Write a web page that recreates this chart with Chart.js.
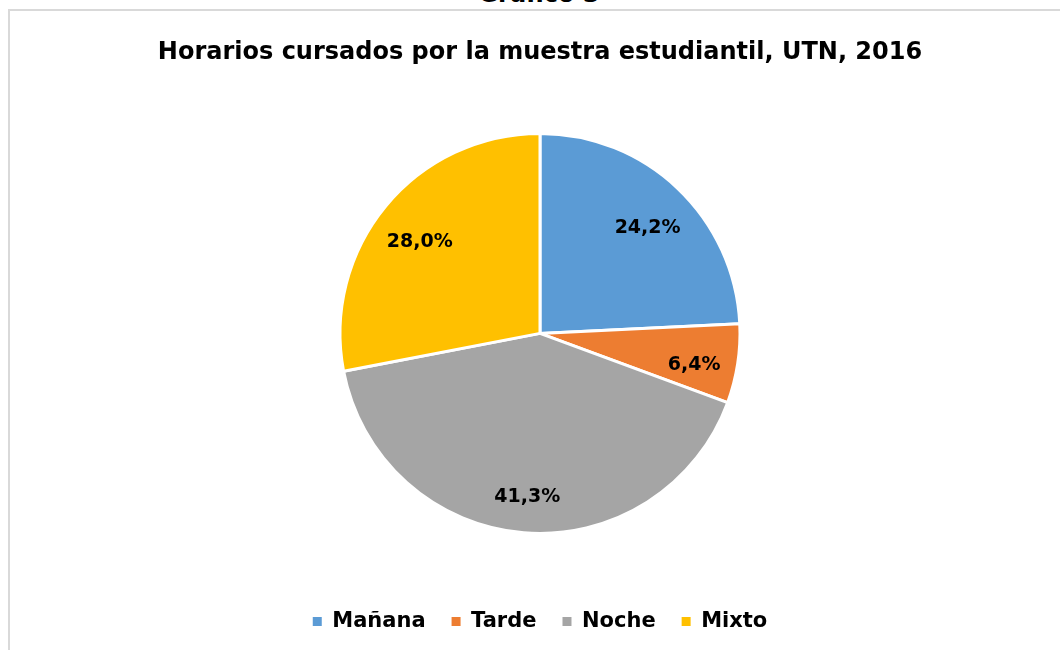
<!DOCTYPE html>
<html>
<head>
<meta charset="utf-8">
<script src="https://cdn.jsdelivr.net/npm/chart.js@4.4.1/dist/chart.umd.min.js"></script>
<style>
  html, body { margin: 0; padding: 0; background: #fff; overflow: hidden; }
  #frame { position: absolute; left: 8px; top: 9px; width: 1100px; height: 700px;
           border-top: 2px solid #d9d9d9; border-left: 2px solid #d9d9d9; }
  #above { position: absolute; left: 0; width: 1078px; top: -19px; text-align: center;
           font: bold 24px "DejaVu Sans", sans-serif; line-height: 26px; color: #000; }
  #wrap { position: absolute; left: 0; top: 0; width: 1060px; height: 650px; }
</style>
</head>
<body>
<div id="frame"></div>
<div id="above">Gráfico 3</div>
<div id="wrap"><canvas id="c" width="1060" height="650"></canvas></div>
<script>
const chartTitle = 'Horarios cursados por la muestra estudiantil, UTN, 2016';
const categories = ['Mañana', 'Tarde', 'Noche', 'Mixto'];
const percentages = [24.2, 6.4, 41.3, 28.0];
const sliceColors = ['#5B9BD5', '#ED7D31', '#A5A5A5', '#FFC000'];

const FONT = '"DejaVu Sans", sans-serif';

const sliceLabels = {
  id: 'sliceLabels',
  afterDatasetsDraw(chart) {
    const ctx = chart.ctx;
    const meta = chart.getDatasetMeta(0);
    const values = chart.data.datasets[0].data;
    ctx.save();
    ctx.font = 'bold 19px ' + FONT;
    ctx.fillStyle = '#000';
    ctx.textAlign = 'center';
    ctx.textBaseline = 'middle';
    meta.data.forEach((arc, i) => {
      const p = arc.getProps(['x', 'y', 'startAngle', 'endAngle', 'outerRadius'], true);
      const mid = (p.startAngle + p.endAngle) / 2;
      const r = p.outerRadius * 0.78;
      const txt = values[i].toFixed(1).replace('.', ',') + '%';
      ctx.fillText(txt, p.x + Math.cos(mid) * r, p.y + Math.sin(mid) * r + 8);
    });
    ctx.restore();
  }
};

new Chart(document.getElementById('c'), {
  type: 'pie',
  data: {
    labels: categories,
    datasets: [{
      data: percentages,
      backgroundColor: sliceColors,
      borderColor: '#ffffff',
      borderWidth: 3,
      radius: 200
    }]
  },
  options: {
    responsive: false,
    animation: false,
    layout: { padding: { left: 20, right: 0, top: 0, bottom: 8 } },
    plugins: {
      title: {
        display: true,
        text: chartTitle,
        color: '#000',
        font: { family: FONT, size: 24, weight: 'bold', lineHeight: 1.2 },
        padding: { top: 38, bottom: 15 }
      },
      legend: {
        position: 'bottom',
        labels: {
          color: '#000',
          font: { family: FONT, size: 21, weight: 'bold' },
          boxWidth: 9,
          boxHeight: 9,
          padding: 26,
          generateLabels(chart) {
            const items = Chart.controllers.pie.overrides.plugins.legend.labels.generateLabels(chart);
            items.forEach(it => { it.lineWidth = 0; it.strokeStyle = 'rgba(0,0,0,0)'; });
            return items;
          }
        }
      },
      tooltip: { enabled: false }
    }
  },
  plugins: [sliceLabels]
});
</script>
</body>
</html>
